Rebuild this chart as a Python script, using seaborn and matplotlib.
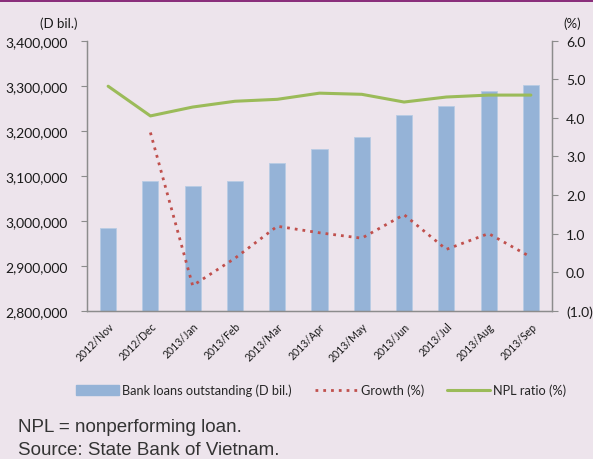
import numpy as np
import pandas as pd
import matplotlib
matplotlib.use("Agg")
import matplotlib.pyplot as plt
from matplotlib.ticker import FuncFormatter, FixedLocator
from matplotlib.patches import Patch
from matplotlib.lines import Line2D
import seaborn as sns

months = ["2012/Nov", "2012/Dec", "2013/Jan", "2013/Feb", "2013/Mar", "2013/Apr",
          "2013/May", "2013/Jun", "2013/Jul", "2013/Aug", "2013/Sep"]
loans = [2983000, 3089000, 3078000, 3089000, 3128000, 3159000,
         3187000, 3236000, 3256000, 3288000, 3302000]
growth = [np.nan, 3.62, -0.35, 0.36, 1.19, 1.02, 0.88, 1.49, 0.59, 1.00, 0.39]
npl = [4.82, 4.05, 4.28, 4.43, 4.48, 4.64, 4.61, 4.41, 4.54, 4.59, 4.59]

left_ticks = [2800000, 2900000, 3000000, 3100000, 3200000, 3300000, 3400000]
right_ticks = [-1.0, 0.0, 1.0, 2.0, 3.0, 4.0, 5.0, 6.0]

BG = "#EDE4EC"
BAR = "#95B3D7"
RED = "#C0504D"
GREEN = "#9BBB59"
SPINE = "#8C8C8C"

sns.set_theme(style="white")
plt.rcParams["font.family"] = ["Lato", "DejaVu Sans"]

df = pd.DataFrame({"month": months, "loans": loans, "growth": growth, "npl": npl})
df["pos"] = np.arange(len(df))

fig = plt.figure(figsize=(5.93, 4.60), dpi=100, facecolor=BG)
ax = fig.add_axes([87/593, 1-311.7/460, (552-87)/593, (311.7-41.7)/460])
ax.set_facecolor(BG)

sns.barplot(data=df, x="month", y="loans", color=BAR, width=0.38, ax=ax,
            saturation=1, edgecolor="#B8CCE4", linewidth=0.6)
ax.set_xlim(-0.5, len(months) - 0.5)
ax.set_ylim(2800000, 3400000)
ax.yaxis.set_major_locator(FixedLocator(left_ticks))
ax.yaxis.set_major_formatter(FuncFormatter(lambda v, p: f"{int(v):,}"))
ax.set_xlabel("")
ax.set_ylabel("")

ax2 = ax.twinx()
sns.lineplot(data=df.dropna(subset=["growth"]), x="pos", y="growth", ax=ax2,
             color=RED, linewidth=2.0, linestyle=(0, (1, 1.8)))
sns.lineplot(data=df, x="pos", y="npl", ax=ax2, color=GREEN, linewidth=2.2)
ax2.set_ylim(-1.0, 6.0)
ax2.yaxis.set_major_locator(FixedLocator(right_ticks))
ax2.yaxis.set_major_formatter(FuncFormatter(lambda v, p: f"({abs(v):.1f})" if v < 0 else f"{v:.1f}"))
ax2.set_xlabel("")
ax2.set_ylabel("")
ax2.set_xlim(-0.5, len(months) - 0.5)

for a in (ax, ax2):
    a.spines["top"].set_visible(False)
    for s in ("left", "right", "bottom"):
        a.spines[s].set_color(SPINE)
        a.spines[s].set_linewidth(0.9)

ax.tick_params(axis="y", which="major", direction="out", length=4, width=0.8,
               color=SPINE, labelsize=10, pad=10, left=True, labelcolor="#1a1a1a")
ax2.tick_params(axis="y", which="major", direction="out", length=4, width=0.8,
                color=SPINE, labelsize=10, pad=6, right=True, labelcolor="#1a1a1a")
ax.set_xticks(np.arange(len(months)))
ax.set_xticklabels(months, rotation=45, ha="right", rotation_mode="anchor",
                   fontsize=7.6, color="#1a1a1a")
ax.tick_params(axis="x", length=0, pad=7)

fig.text(40/593, 1-24/460, "(D bil.)", fontsize=9.5, ha="left", va="center", color="#1a1a1a")
fig.text(563/593, 1-24/460, "(%)", fontsize=9.5, ha="left", va="center", color="#1a1a1a")

handles = [Patch(facecolor=BAR, edgecolor=BAR),
           Line2D([0], [0], color=RED, linewidth=2.0, linestyle=(0, (1, 1.8))),
           Line2D([0], [0], color=GREEN, linewidth=2.2)]
labels = ["Bank loans outstanding (D bil.)", "Growth (%)", "NPL ratio (%)"]
fig.legend(handles, labels, loc="center", bbox_to_anchor=(321/593, 1-391/460), ncol=3,
           frameon=False, fontsize=9.2, handlelength=3.4, handleheight=0.8,
           handletextpad=0.2, columnspacing=1.8)

fig.text(18/593, 1-428/460, "NPL = nonperforming loan.", fontsize=13.5, ha="left", va="center",
         color="#333333", family=["Liberation Sans", "DejaVu Sans"])
fig.text(18/593, 1-451/460, "Source: State Bank of Vietnam.", fontsize=13.5, ha="left", va="center",
         color="#333333", family=["Liberation Sans", "DejaVu Sans"])

fig.add_artist(plt.Rectangle((0, 1-3/460), 1, 3/460, transform=fig.transFigure,
                             facecolor="#8B2F7C", edgecolor="none"))

fig.savefig("out.png", dpi=100, facecolor=BG)
